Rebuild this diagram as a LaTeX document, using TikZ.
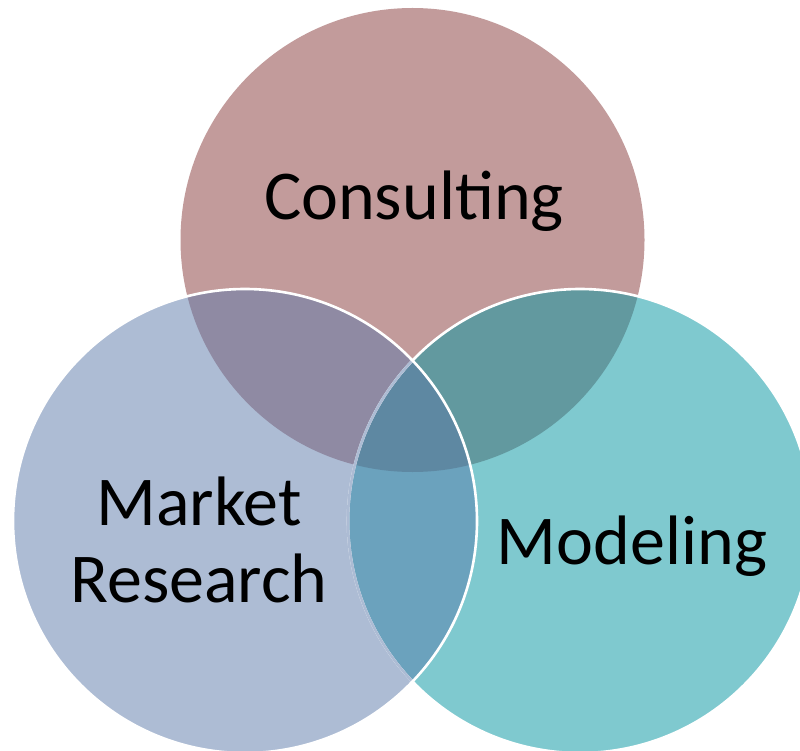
\documentclass[tikz,border=0pt]{standalone}
\usepackage{fontspec}
\setmainfont{Carlito}
\begin{document}
\begin{tikzpicture}[x=1pt,y=-1pt,
  label text/.style={font=\fontsize{70}{77}\selectfont, inner sep=0pt, align=center, text=black},
  rim/.style={line width=2.6pt}]
% fill colours of the single sets and their overlaps
\definecolor{cT}{HTML}{C29B9B}
\definecolor{cL}{HTML}{ADBCD4}
\definecolor{cR}{HTML}{7FC9CF}
\definecolor{cTL}{HTML}{8F8AA3}
\definecolor{cTR}{HTML}{62999F}
\definecolor{cLR}{HTML}{6BA2BD}
\definecolor{cTLR}{HTML}{5E88A2}
\def\rad{232}

\fill[white] (0,0) rectangle (800,751);
\useasboundingbox (0,0) rectangle (800,751);

\coordinate (T) at (412.5,240);
\coordinate (L) at (245,521);
\coordinate (R) at (580,521);

% single sets
\fill[cT] (T) circle[radius=\rad];
\fill[cR] (R) circle[radius=\rad];
\fill[cL] (L) circle[radius=\rad];

% pairwise overlaps
\begin{scope}
  \clip (T) circle[radius=\rad];
  \fill[cTR] (R) circle[radius=\rad];
  \fill[cTL] (L) circle[radius=\rad];
\end{scope}
\begin{scope}
  \clip (L) circle[radius=\rad];
  \fill[cLR] (R) circle[radius=\rad];
\end{scope}
% common core
\begin{scope}
  \clip (T) circle[radius=\rad];
  \clip (L) circle[radius=\rad];
  \fill[cTLR] (R) circle[radius=\rad];
\end{scope}

% rims: the right rim shows through the left set, the left rim lies on top
\draw[rim, white] (R) circle[radius=\rad];
\begin{scope}
  \clip (L) circle[radius=\rad];
  \draw[rim, cL] (R) circle[radius=\rad];
\end{scope}
\draw[rim, white] (L) circle[radius=\rad];

% labels
\node[label text, anchor=base] (consulting) at (414,220) {Consulting};
\node[label text, anchor=base] (market) at (199,602) {Market\\Research};
\node[label text, anchor=base] (modeling) at (632,564) {Modeling};
\end{tikzpicture}
\end{document}
